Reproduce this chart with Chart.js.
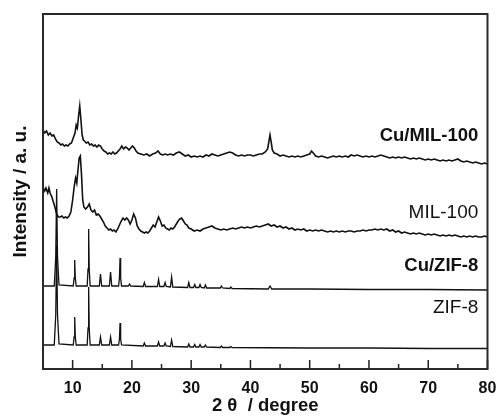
<!DOCTYPE html>
<html><head><meta charset="utf-8">
<script src="https://cdn.jsdelivr.net/npm/chart.js@4"></script>
<style>html,body{margin:0;padding:0;background:#fff}</style>
</head><body>
<canvas id="c" width="499" height="417"></canvas>
<script>
// ---- data (2θ in degrees, intensity in arbitrary stacked units) ----
const majorTicks = [10, 20, 30, 40, 50, 60, 70, 80];
const minorTicks = [15, 25, 35, 45, 55, 65, 75];
const seriesNames = ['Cu/MIL-100', 'MIL-100', 'Cu/ZIF-8', 'ZIF-8'];
const seriesBold = [true, false, true, false];

const cuMilX = [5.0,5.3,5.6,5.9,6.2,6.5,6.8,7.1,7.4,7.7,
 8.0,8.3,8.6,8.9,9.2,9.5,9.8,10.1,10.4,10.6,
 10.8,11.0,11.2,11.4,11.6,11.8,12.0,12.3,12.6,12.9,
 13.2,13.5,13.8,14.1,14.4,14.7,15.0,15.3,15.6,15.9,
 16.2,16.5,16.8,17.1,17.4,17.7,18.0,18.3,18.6,18.9,
 19.2,19.5,19.8,20.1,20.4,20.7,21.0,21.5,22.0,22.5,
 23.0,23.5,24.0,24.4,24.8,25.2,25.6,26.0,26.5,27.0,
 27.5,28.0,28.5,29.0,29.5,30.0,30.5,31.0,31.5,32.0,
 32.5,33.0,33.5,34.0,34.5,35.0,35.5,36.0,36.5,37.0,
 37.5,38.0,38.5,39.0,39.5,40.0,40.5,41.0,41.5,42.0,
 42.5,42.9,43.1,43.3,43.5,43.7,44.0,44.5,45.0,45.5,
 46.0,46.5,47.0,47.5,48.0,48.5,49.0,49.5,50.0,50.3,
 50.6,51.0,51.5,52.0,52.5,53.0,53.5,54.0,54.5,55.0,
 55.5,56.0,56.5,57.0,57.5,58.0,58.5,59.0,59.5,60.0,
 60.5,61.0,61.5,62.0,62.5,63.0,63.5,64.0,64.5,65.0,
 65.5,66.0,66.5,67.0,67.5,68.0,68.5,69.0,69.5,70.0,
 70.5,71.0,71.5,72.0,72.5,73.0,73.5,74.0,74.5,75.0,
 75.5,76.0,76.5,77.0,77.5,78.0,78.5,79.0,79.5,80.0];
const cuMilY = [239,236,238,234,236,233,234,230,227,226,
 224,225,223,224,223,225,226,231,236,244,
 241,253,263,249,234,229,228,226,227,224,
 225,223,224,222,224,223,220,218,217,215,
 216,215,217,215,216,218,220,223,220,222,
 221,219,221,223,221,218,216,215,214,215,
 213,215,216,218,215,214,215,214,215,214,
 216,217,215,213,214,212,213,212,213,212,
 214,213,215,214,213,214,215,216,217,216,
 214,213,214,213,214,214,213,214,215,215,
 217,220,227,234,227,219,216,215,213,214,
 213,212,213,212,213,212,213,214,215,218,
 216,213,212,213,212,211,212,213,212,213,
 212,213,212,214,213,214,213,212,213,212,
 213,212,213,214,213,212,211,212,211,212,
 211,212,211,210,211,210,211,210,209,210,
 209,210,209,208,209,208,209,208,209,210,
 208,207,208,207,206,207,206,205,206,205];

const milX = [5.0,5.3,5.5,5.8,6.0,6.2,6.5,6.7,7.0,7.3,
 7.6,7.9,8.2,8.5,8.8,9.1,9.4,9.7,10.0,10.3,
 10.5,10.7,10.9,11.1,11.3,11.5,11.7,11.9,12.2,12.5,
 12.8,13.1,13.4,13.7,14.0,14.3,14.6,14.9,15.2,15.5,
 15.8,16.1,16.4,16.7,17.0,17.3,17.6,17.9,18.2,18.5,
 18.8,19.1,19.4,19.7,20.0,20.3,20.6,20.9,21.2,21.5,
 21.8,22.1,22.4,22.7,23.0,23.3,23.6,23.9,24.2,24.5,
 24.8,25.1,25.4,25.7,26.0,26.3,26.6,26.9,27.2,27.5,
 27.8,28.1,28.4,28.7,29.0,29.3,29.6,30.0,30.5,31.0,
 31.5,32.0,32.5,33.0,33.5,34.0,34.5,35.0,35.5,36.0,
 36.5,37.0,37.5,38.0,38.5,39.0,39.5,40.0,40.5,41.0,
 41.5,42.0,42.5,43.0,43.5,44.0,44.5,45.0,45.5,46.0,
 46.5,47.0,47.5,48.0,48.5,49.0,49.5,50.0,50.5,51.0,
 51.5,52.0,52.5,53.0,53.5,54.0,54.5,55.0,55.5,56.0,
 56.5,57.0,57.5,58.0,58.5,59.0,59.5,60.0,60.5,61.0,
 61.5,62.0,62.5,63.0,63.5,64.0,64.5,65.0,65.5,66.0,
 66.5,67.0,67.5,68.0,68.5,69.0,69.5,70.0,70.5,71.0,
 71.5,72.0,72.5,73.0,73.5,74.0,74.5,75.0,75.5,76.0,
 76.5,77.0,77.5,78.0,78.5,79.0,79.5,80.0];
const milY = [182,178,181,176,181,176,172,168,162,155,
 152,152,153,151,152,151,153,157,169,184,
 191,186,199,211,213,194,169,162,160,162,
 165,159,157,159,154,155,153,150,147,143,
 141,139,140,138,139,137,140,144,148,151,
 149,151,149,145,149,155,151,143,140,138,
 137,136,137,136,138,141,144,142,147,152,
 148,143,144,141,140,139,141,140,142,145,
 148,150,151,148,145,144,141,140,138,139,
 138,140,141,142,143,141,140,139,140,139,
 140,141,140,141,142,141,142,141,142,143,
 142,143,144,145,143,144,142,143,141,142,
 140,141,139,140,139,140,138,139,138,139,
 138,139,138,137,138,137,138,137,138,137,
 138,138,137,138,138,139,138,139,139,140,
 139,140,139,140,138,139,137,138,136,137,
 136,135,136,135,136,135,134,135,134,135,
 134,133,134,133,134,133,134,133,132,133,
 132,133,132,133,132,132,133,132];

const cuZifX = [5,6.9,7.15,7.3,7.45,7.7,10.1,10.25,10.35,10.45,10.6,
 12.45,12.6,12.7,12.8,12.95,14.5,14.7,14.9,16.2,16.4,16.6,
 17.75,17.9,18.0,18.1,18.25,19.4,19.6,19.8,21.9,22.1,22.3,
 24.3,24.5,24.7,25.4,25.6,25.8,26.5,26.7,26.9,29.4,29.6,29.8,
 30.4,30.6,30.8,31.3,31.5,31.7,32.2,32.4,32.6,34.9,35.1,35.3,
 36.5,36.7,36.9,43.0,43.3,43.6,50,60,70,80];
const cuZifY = [83,83,112,180,112,84,83,91,109,91,83,
 83,100,140,100,83,83,95,83,83,97,83,
 83,91,111,91,83,83,85,83,82.5,86.5,82.5,
 82.5,89.5,82.5,82.5,86.5,82.5,82,92,82,81.5,86.5,81.5,
 81.5,84.5,81.5,81.5,84.5,81.5,81,84,81,81,83,81,
 80.5,82,80.5,80,83,80,80,79.5,79.5,79];

const zifX = [5,6.9,7.15,7.3,7.45,7.7,10.1,10.25,10.35,10.45,10.6,
 12.45,12.6,12.7,12.8,12.95,14.5,14.7,14.9,16.2,16.4,16.6,
 17.75,17.9,18.0,18.1,18.25,21.9,22.1,22.3,
 24.3,24.5,24.7,25.4,25.6,25.8,26.5,26.7,26.9,29.4,29.6,29.8,
 30.4,30.6,30.8,31.3,31.5,31.7,32.2,32.4,32.6,34.9,35.1,35.3,
 36.5,36.7,36.9,50,60,70,80];
const zifY = [24,24,54,124,54,25,24,32,52,32,24,
 24,41,82,41,24,24,32,24,24,32,24,
 24,30,46,30,24,23,26,23,
 23,27,23,23,26,23,22.5,29,22.5,22,25,22,
 22,24.5,22,22,24.5,22,22,24,22,21.5,23,21.5,
 21.5,22.5,21.5,21,21,20.5,20.5];

// label anchor values (in data units) for the series names
const labelX = 78.45;
const labelY = [233, 156, 103, 61];

const FONT = '"Liberation Sans", Arial, Helvetica, sans-serif';
const pts = (xs, ys) => xs.map((x, i) => ({x, y: ys[i]}));
const mk = (xs, ys, w) => ({data: pts(xs, ys), showLine: true, borderColor: '#111', borderWidth: w,
  pointRadius: 0, tension: 0, fill: false});

const framePlugin = {
  id: 'frame',
  afterDatasetsDraw(chart) {
    const {ctx, chartArea: a, scales: {x, y}} = chart;
    ctx.save();
    ctx.strokeStyle = '#222';
    ctx.lineWidth = 1.5;
    ctx.beginPath();
    majorTicks.forEach(v => { const p = x.getPixelForValue(v); ctx.moveTo(p, a.bottom); ctx.lineTo(p, a.bottom - 9); });
    minorTicks.forEach(v => { const p = x.getPixelForValue(v); ctx.moveTo(p, a.bottom); ctx.lineTo(p, a.bottom - 5); });
    ctx.stroke();
    ctx.lineWidth = 2;
    ctx.strokeStyle = '#2a2a2a';
    ctx.strokeRect(a.left, a.top, a.right - a.left, a.bottom - a.top);
    ctx.fillStyle = '#111';
    ctx.textAlign = 'right';
    ctx.textBaseline = 'middle';
    seriesNames.forEach((n, i) => {
      ctx.font = (seriesBold[i] ? 'bold 18.5px ' : '19px ') + FONT;
      ctx.fillText(n, x.getPixelForValue(labelX), y.getPixelForValue(labelY[i]));
    });
    ctx.restore();
  }
};

new Chart(document.getElementById('c'), {
  type: 'scatter',
  data: {datasets: [mk(cuMilX, cuMilY, 1.6), mk(milX, milY, 1.6), mk(cuZifX, cuZifY, 1.3), mk(zifX, zifY, 1.3)]},
  options: {
    responsive: false, animation: false, devicePixelRatio: 1,
    layout: {padding: {top: 14, right: 11.5, left: 0, bottom: 0}},
    plugins: {legend: {display: false}, tooltip: {enabled: false}},
    scales: {
      x: {type: 'linear', min: 5, max: 80,
        grid: {display: false, drawTicks: false}, border: {display: false},
        afterFit: s => { s.height = 48; s.paddingLeft = 0; s.paddingRight = 0; },
        afterBuildTicks: s => { s.ticks = majorTicks.map(v => ({value: v})); },
        ticks: {autoSkip: false, maxRotation: 0, padding: 10, color: '#111',
          font: {family: FONT, size: 16, weight: 'bold'}},
        title: {display: true, text: '2 θ  / degree', color: '#111',
          font: {family: FONT, size: 18.5, weight: 'bold'}, padding: {top: 0, bottom: 0}}},
      y: {type: 'linear', min: 0, max: 355,
        grid: {display: false, drawTicks: false}, border: {display: false},
        ticks: {display: false},
        afterFit: s => { s.width = 43; },
        title: {display: true, text: 'Intensity / a. u.', color: '#111',
          font: {family: FONT, size: 19, weight: 'bold'}, padding: {top: 9, bottom: 0}}}
    }
  },
  plugins: [framePlugin]
});
</script>
</body></html>
